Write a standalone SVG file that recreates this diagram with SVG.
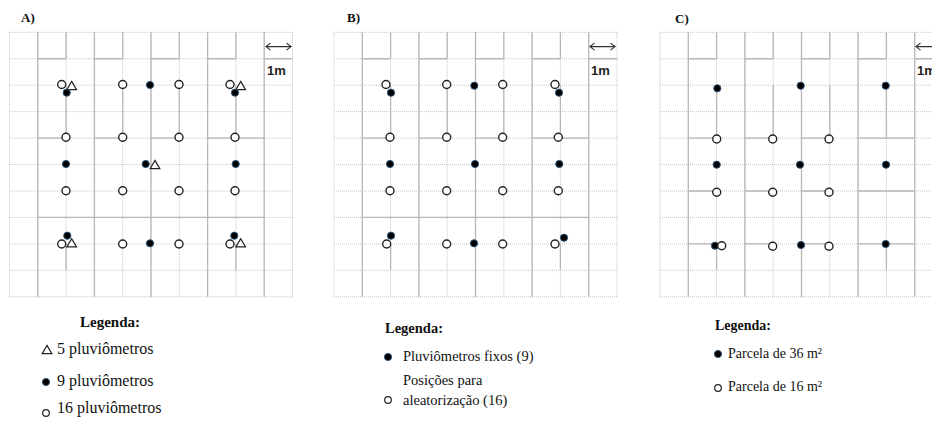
<svg xmlns="http://www.w3.org/2000/svg" width="932" height="423" viewBox="0 0 932 423">
<style>
.bg{fill:#fff}
.dot{fill:none;stroke:#c4c4c4;stroke-width:1;stroke-dasharray:1 1}
.sol{fill:none;stroke:#b8b8b8;stroke-width:1.3}
.lbl{font-family:"Liberation Serif",serif;font-weight:bold;font-size:13px;fill:#111}
.m1{font-family:"Liberation Sans",Arial,sans-serif;font-weight:bold;font-size:13px;fill:#222}
.arr{fill:none;stroke:#333;stroke-width:1.2}
.leg{font-family:"Liberation Serif",serif;font-size:15px;fill:#111}
.legh{font-family:"Liberation Serif",serif;font-weight:bold;font-size:15px;fill:#111}
.la{font-size:16px}
.lb{font-size:14.5px}
.lc{font-size:14px}
</style>
<defs>
<g id="grid">
<path class="dot" d="M0,0V264.5M28.3,0V264.5M56.6,0V264.5M84.9,0V264.5M113.2,0V264.5M141.5,0V264.5M169.8,0V264.5M198.1,0V264.5M226.4,0V264.5M254.7,0V264.5M283,0V264.5"/>
<path class="dot" d="M0,0H283M0,26.45H283M0,52.9H283M0,79.35H283M0,105.8H283M0,132.25H283M0,158.7H283M0,185.15H283M0,211.6H283M0,238.05H283M0,264.5H283"/>
<path class="sol" d="M28.3,0V264.5M84.9,0V264.5M141.5,0V264.5M198.1,0V264.5M254.7,0V264.5"/>
<path class="sol" d="M56.6,0V26.45M113.2,0V26.45M169.8,0V26.45M226.4,0V26.45M56.6,52.9V105.8M113.2,52.9V105.8M169.8,52.9V105.8M226.4,52.9V105.8M56.6,211.6V238.05M226.4,211.6V238.05"/>
<path class="sol" d="M28.3,26.45H56.6M84.9,26.45H113.2M141.5,26.45H169.8M198.1,26.45H226.4M254.7,26.45H283M28.3,105.8H56.6M84.9,105.8H113.2M141.5,105.8H169.8M198.1,105.8H254.7"/>
</g>
<circle id="f" r="3.6" fill="#000" stroke="#2e5478" stroke-width="1"/>
<circle id="o" r="4" fill="#fff" stroke="#222" stroke-width="1.4"/>
<polygon id="t" points="0,-4.6 4.8,3.6 -4.8,3.6" fill="#fff" stroke="#222" stroke-width="1.2"/>
</defs>
<rect class="bg" width="932" height="423"/>

<g id="panelA">
<text class="lbl" x="21" y="22">A)</text>
<g transform="translate(9.5,32.3)">
<use href="#grid"/>
<path class="sol" d="M28.3,185.15H254.7"/>
<path class="arr" d="M256.5,14.3H281.5M261,10.8L256.5,14.3L261,17.8M277,10.8L281.5,14.3L277,17.8"/>
<text class="m1" x="257.5" y="43">1m</text>
</g>
<g id="markersA">
<use href="#o" x="61.7" y="84.5"/><use href="#t" x="71.7" y="86"/><use href="#f" x="66.7" y="92.7"/>
<use href="#o" x="122.7" y="84.5"/><use href="#f" x="150" y="85"/><use href="#o" x="179" y="84.5"/>
<use href="#o" x="230" y="84.5"/><use href="#t" x="240.7" y="86"/><use href="#f" x="235" y="92.7"/>
<use href="#o" x="66" y="137.3"/><use href="#o" x="122.7" y="137.3"/><use href="#o" x="179" y="137.3"/><use href="#o" x="235" y="137.3"/>
<use href="#f" x="66" y="164"/><use href="#f" x="145.7" y="164"/><use href="#t" x="155" y="165"/><use href="#f" x="235.7" y="164"/>
<use href="#o" x="66" y="190.7"/><use href="#o" x="122.7" y="190.7"/><use href="#o" x="179" y="190.7"/><use href="#o" x="235" y="190.7"/>
<use href="#f" x="67.3" y="235.7"/><use href="#o" x="61.7" y="244"/><use href="#t" x="71.7" y="243.3"/>
<use href="#o" x="122.7" y="244"/><use href="#f" x="150" y="243.3"/><use href="#o" x="179" y="244"/>
<use href="#f" x="234.3" y="235.7"/><use href="#o" x="230" y="244"/><use href="#t" x="240.7" y="243.3"/>
</g>
</g>

<g id="panelB">
<text class="lbl" x="347" y="22">B)</text>
<g transform="translate(334,32.3)">
<use href="#grid"/>
<path class="sol" d="M28.3,185.15H254.7"/>
<path class="arr" d="M256,14.3H281M260.5,10.8L256,14.3L260.5,17.8M276.5,10.8L281,14.3L276.5,17.8"/>
<text class="m1" x="257" y="43">1m</text>
</g>
<g id="markersB">
<use href="#o" x="386" y="84.5"/><use href="#f" x="391" y="92.7"/>
<use href="#o" x="446.7" y="84.5"/><use href="#f" x="474.3" y="85.7"/><use href="#o" x="502.7" y="84.5"/>
<use href="#o" x="555" y="84.5"/><use href="#f" x="559" y="92.7"/>
<use href="#o" x="390" y="137.3"/><use href="#o" x="446.7" y="137.3"/><use href="#o" x="502.7" y="137.3"/><use href="#o" x="558.3" y="137.3"/>
<use href="#f" x="390" y="164"/><use href="#f" x="475" y="164"/><use href="#f" x="559.3" y="164"/>
<use href="#o" x="390" y="190.7"/><use href="#o" x="446.7" y="190.7"/><use href="#o" x="502.7" y="190.7"/><use href="#o" x="558.3" y="190.7"/>
<use href="#f" x="391" y="235.7"/><use href="#o" x="386.7" y="244"/>
<use href="#o" x="446.7" y="244"/><use href="#f" x="474" y="243.3"/><use href="#o" x="502.7" y="244"/>
<use href="#o" x="555" y="244"/><use href="#f" x="564" y="237.7"/>
</g>
</g>

<g id="panelC">
<text class="lbl" x="675" y="23">C)</text>
<g transform="translate(660,32.3)">
<use href="#grid"/>
<path class="sol" d="M28.3,158.7H56.6M84.9,158.7H113.2M141.5,158.7H169.8M198.1,158.7H254.7M28.3,211.6H56.6M84.9,211.6H113.2M141.5,211.6H169.8M198.1,211.6H254.7"/>
<path class="arr" d="M256,14.3H281M260.5,10.8L256,14.3L260.5,17.8M276.5,10.8L281,14.3L276.5,17.8"/>
<text class="m1" x="257" y="43">1m</text>
</g>
<g id="markersC">
<use href="#f" x="717.3" y="88.3"/><use href="#f" x="800.7" y="85.7"/><use href="#f" x="885.7" y="85.7"/>
<use href="#o" x="716.7" y="139"/><use href="#o" x="772.7" y="139"/><use href="#o" x="829" y="139"/>
<use href="#f" x="716.7" y="164.7"/><use href="#f" x="800" y="164.7"/><use href="#f" x="886" y="164.7"/>
<use href="#o" x="716.7" y="192.3"/><use href="#o" x="772.7" y="192.3"/><use href="#o" x="829" y="192.3"/>
<use href="#f" x="715" y="245.7"/><use href="#o" x="721.7" y="245.7"/><use href="#o" x="772.7" y="246.3"/>
<use href="#f" x="801" y="245"/><use href="#o" x="829" y="246.3"/><use href="#f" x="885.7" y="244"/>
</g>
</g>

<g id="legendA">
<text class="legh" x="80" y="327">Legenda:</text>
<use href="#t" x="47" y="350"/>
<text class="leg la" x="57" y="354">5 pluviômetros</text>
<use href="#f" x="46" y="382"/>
<text class="leg la" x="57" y="386">9 pluviômetros</text>
<circle cx="46" cy="413" r="3.3" fill="#fff" stroke="#222" stroke-width="1.2"/>
<text class="leg la" x="57" y="413">16 pluviômetros</text>
</g>

<g id="legendB">
<text class="legh lb" x="385" y="333">Legenda:</text>
<use href="#f" x="388" y="357"/>
<text class="leg lb" x="403" y="361">Pluviômetros fixos (9)</text>
<text class="leg lb" x="403" y="385">Posições para</text>
<circle cx="388" cy="400" r="3.3" fill="#fff" stroke="#222" stroke-width="1.2"/>
<text class="leg lb" x="403" y="405">aleatorização (16)</text>
</g>

<g id="legendC">
<text class="legh lc" x="715" y="330">Legenda:</text>
<use href="#f" x="718" y="354"/>
<text class="leg lc" x="728" y="358">Parcela de 36 m²</text>
<circle cx="718" cy="388" r="3.3" fill="#fff" stroke="#222" stroke-width="1.2"/>
<text class="leg lc" x="728" y="391">Parcela de 16 m²</text>
</g>
</svg>
